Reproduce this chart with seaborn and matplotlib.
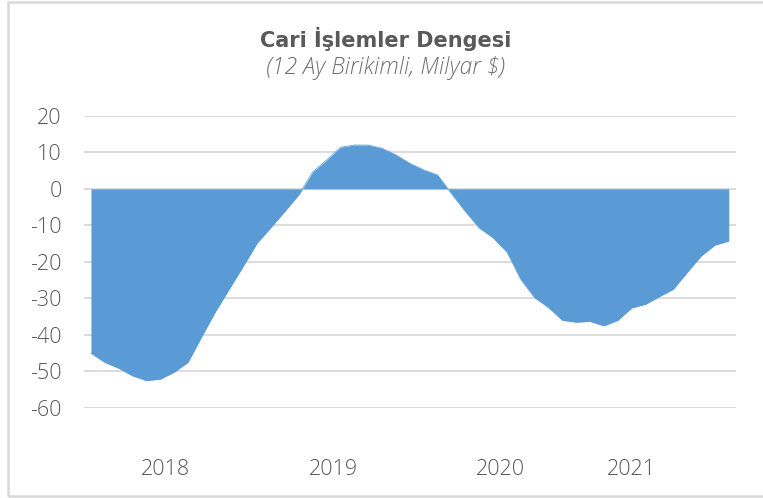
import matplotlib
matplotlib.use("Agg")
import matplotlib.pyplot as plt
import seaborn as sns
import pandas as pd
from matplotlib.patches import Rectangle

# Monthly 12-month cumulative current account balance, Jan 2018 - Nov 2021 (billion $)
months = list(pd.date_range("2018-01-01", periods=47, freq="MS").strftime("%Y-%m"))
balance = [
    -45.0, -47.5, -49.1, -51.2, -52.5, -52.1, -50.2, -47.5, -40.4, -33.5,
    -27.3, -21.1, -14.8, -10.5, -6.1, -1.6, 4.7, 7.9, 11.4, 12.0,
    12.0, 11.1, 9.3, 7.0, 5.2, 3.8, -1.3, -6.2, -10.7, -13.4,
    -17.3, -24.8, -29.8, -32.5, -36.0, -36.5, -36.3, -37.5, -36.0, -32.6,
    -31.6, -29.5, -27.5, -22.9, -18.4, -15.4, -14.3,
]
year_labels = ["2018", "2019", "2020", "2021"]
year_label_pos = [5.4, 17.5, 29.5, 39.0]
y_ticks = [-60, -50, -40, -30, -20, -10, 0, 10, 20]

title = "Cari İşlemler Dengesi"
subtitle = "(12 Ay Birikimli, Milyar $)"

sns.set_theme(style="white")
plt.rcParams["font.family"] = ["Open Sans", "DejaVu Sans"]
plt.rcParams["axes.unicode_minus"] = False

W, H = 763, 498
fig = plt.figure(figsize=(W / 100, H / 100), dpi=100)
ax = fig.add_axes([84 / W, 1 - 408 / H, (735.7 - 84) / W, (408 - 115.8) / H])

df = pd.DataFrame({"idx": range(len(balance)), "month": months, "value": balance})
blue = "#5B9BD5"
sns.lineplot(data=df, x="idx", y="value", ax=ax, color=blue, linewidth=0.5, zorder=3)
ax.fill_between(df["idx"], df["value"], 0, color=blue, linewidth=0, zorder=3)

ax.set_xlim(-0.5, len(balance) - 0.5)
ax.set_ylim(-60, 20)
ax.set_yticks(y_ticks)
ax.set_xticks(year_label_pos)
ax.set_xticklabels(year_labels)
ax.set_xlabel("")
ax.set_ylabel("")
ax.grid(False)
ax.yaxis.grid(True, color="#d9d9d9", linewidth=1.3, zorder=0)
ax.set_axisbelow(True)
for s in ax.spines.values():
    s.set_visible(False)

ax.tick_params(axis="y", length=0, pad=16, labelsize=15.5, labelcolor="#595959")
ax.tick_params(axis="x", length=0, pad=37, labelsize=15.5, labelcolor="#595959")
for lab in ax.get_xticklabels() + ax.get_yticklabels():
    lab.set_fontweight(300)

fig.text(386 / W, 1 - 39 / H, title, ha="center", va="center", fontsize=15,
         fontweight="bold", color="#595959", family=["DejaVu Sans"])
fig.text(386 / W, 1 - 68 / H, subtitle, ha="center", va="center", fontsize=16.5,
         fontstyle="italic", fontweight=300, color="#6f6f6f")

# outer chart border (right edge lies beyond the image)
fig.patches.append(Rectangle((8 / W, 1 - 496 / H), (W + 10) / W, (494) / H,
                             transform=fig.transFigure, fill=False,
                             edgecolor="#d9d9d9", linewidth=1.8))

fig.savefig("out.png", dpi=100)
